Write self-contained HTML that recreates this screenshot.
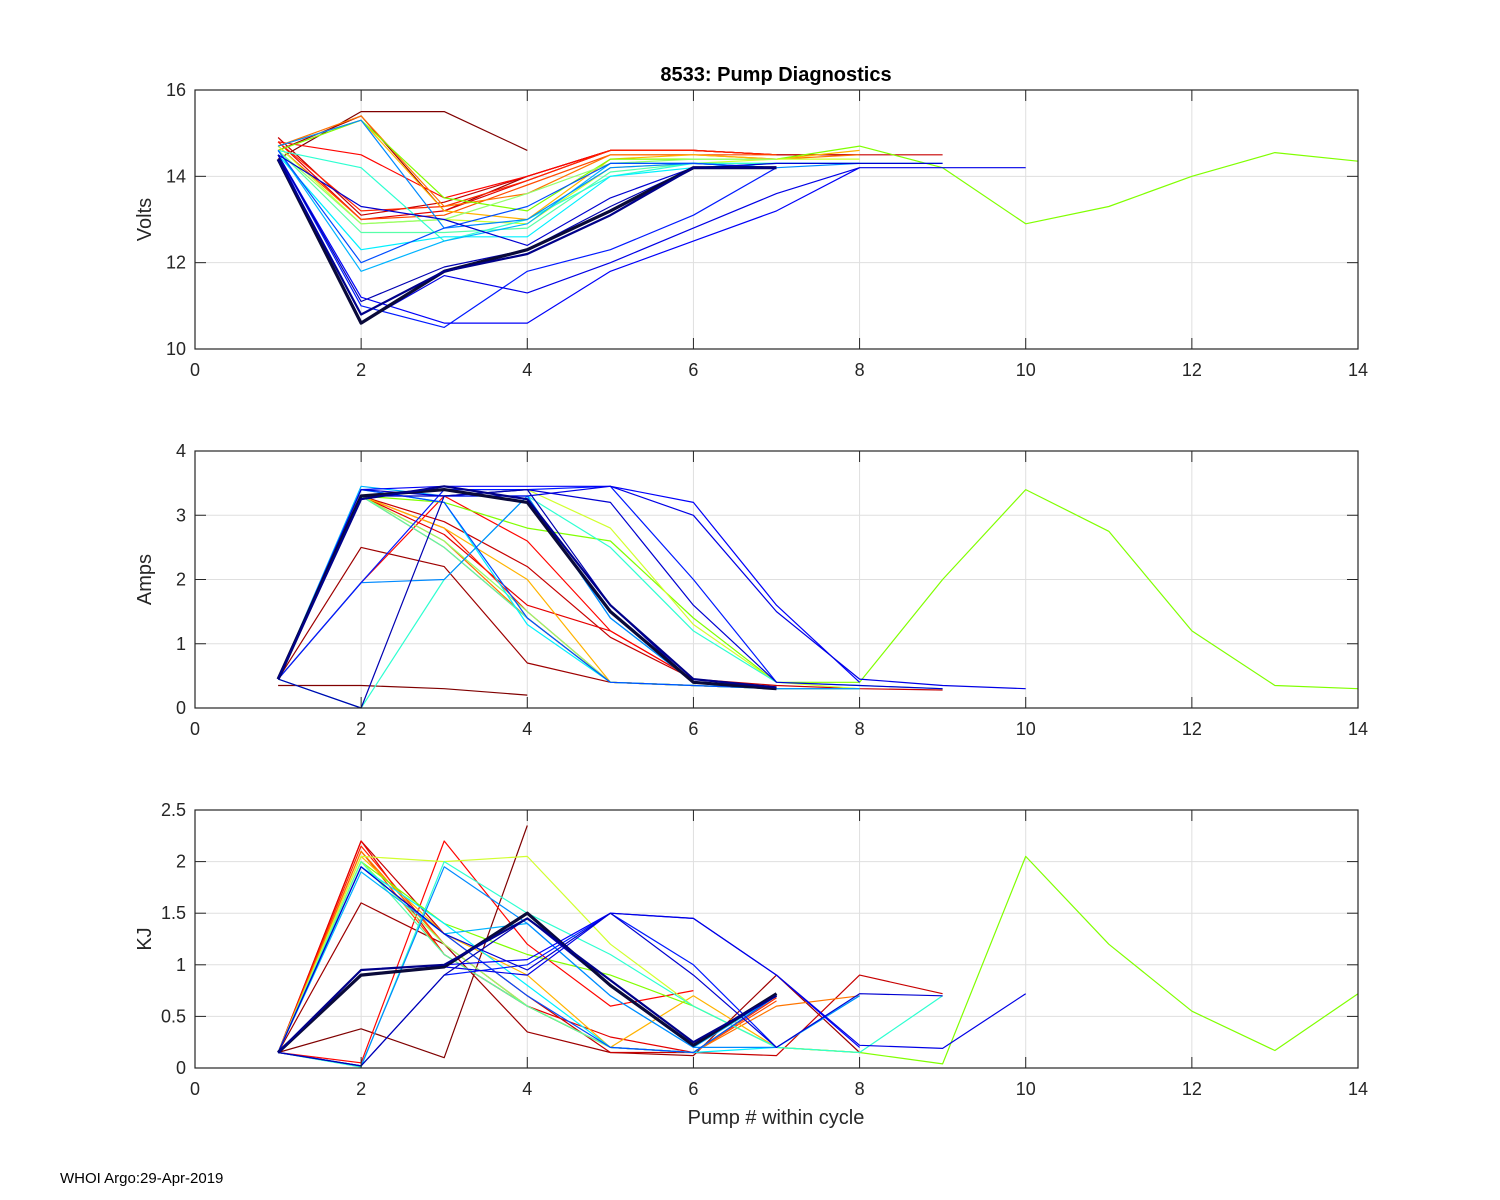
<!DOCTYPE html>
<html><head><meta charset="utf-8"><style>
html,body{margin:0;padding:0;background:#fff;}
svg{display:block;font-family:"Liberation Sans",Arial,sans-serif;}
</style></head><body>
<svg id="chart" width="1500" height="1200" viewBox="0 0 1500 1200">
<rect width="1500" height="1200" fill="#fff"/>
<text x="776" y="81" text-anchor="middle" font-size="20" font-weight="bold" fill="#000">8533: Pump Diagnostics</text>
<text x="776" y="1124" text-anchor="middle" font-size="20" fill="#262626">Pump # within cycle</text>
<text x="60" y="1183" font-size="15" fill="#000">WHOI Argo:29-Apr-2019</text>
</svg>
<script>
// Series: t = colour position on jet scale (0 blue .. 1 dark red), 'k' = dark thick line, 'lg' = lime green
const seriesColor = [1.0, 0.97, 0.93, 0.9, 0.87, 0.84, 0.8, 0.76, 0.7, 'lg', 0.58, 0.52, 0.46, 0.42, 0.36, 0.3, 0.26, 0.2, 0.15, 0.12, 0.1, 0.08, 0.05, 'k', 'k2'];
const volts = [
 [14.4,15.5,15.5,14.6],
 [14.6,15.4,13.2,14.0,14.6,14.6,14.5,14.5],
 [14.9,13.1,13.4,14.0,14.6,14.6,14.5,14.5,14.5],
 [14.8,13.0,13.2,13.9,14.6,14.6,14.5],
 [14.8,14.5,13.5,14.0,14.6,14.6],
 [14.8,13.2,13.3,13.9,14.6,14.6,14.5],
 [14.7,13.0,13.1,13.8,14.5,14.5,14.5],
 [14.7,15.4,13.3,13.6,14.5,14.5,14.4,14.5],
 [14.7,15.3,13.2,13.0,14.4,14.5,14.4,14.6],
 [14.6,15.3,13.5,13.2,14.4,14.4,14.4,14.7,14.2,12.9,13.3,14.0,14.55,14.35],
 [14.7,12.9,13.0,12.9,14.2,14.3,14.4,14.4],
 [14.6,12.9,13.0,13.6,14.3,14.4,14.4],
 [14.6,12.7,12.7,12.8,14.1,14.3,14.3],
 [14.6,14.2,12.5,13.0,14.0,14.3,14.3,14.3,14.3],
 [14.5,12.3,12.6,12.6,14.0,14.2,14.3,14.3],
 [14.6,11.8,12.5,12.9,14.3,14.3,14.2],
 [14.7,15.3,12.8,13.0,14.2,14.3,14.2,14.3],
 [14.6,12.0,12.8,13.3,14.3,14.3,14.2],
 [14.5,11.0,10.5,11.8,12.3,13.1,14.2],
 [14.5,11.2,10.6,10.6,11.8,12.5,13.2,14.2],
 [14.5,10.6,11.7,11.3,12.0,12.8,13.6,14.2,14.2,14.2],
 [14.5,13.3,13.0,12.4,13.5,14.2,14.3,14.3,14.3],
 [14.5,11.1,11.9,12.3,13.3,14.2,14.2],
 [14.4,10.6,11.8,12.3,13.2,14.2,14.2],
 [14.4,10.8,11.8,12.2,13.1,14.2,14.2]
];
const amps = [
 [0.35,0.35,0.3,0.2],
 [0.45,2.5,2.2,0.7,0.4,0.35,0.3,0.3],
 [0.45,3.3,2.9,2.2,1.1,0.45,0.35,0.3,0.28],
 [0.45,3.3,2.7,1.6,1.2,0.45,0.3],
 [0.45,1.95,3.3,2.6,1.2,0.45],
 [0.45,3.3,2.8,1.5,0.4,0.35,0.3],
 [0.45,3.3,2.5,1.4,0.4,0.35,0.3],
 [0.45,3.3,2.6,1.4,0.4,0.35,0.3,0.3],
 [0.45,3.3,2.8,2.0,0.4,0.35,0.3,0.3],
 [0.45,3.3,3.2,2.8,2.6,1.4,0.4,0.4,2.0,3.4,2.75,1.2,0.35,0.3],
 [0.45,3.3,3.3,3.4,2.8,1.3,0.4,0.3],
 [0.45,3.3,2.6,1.5,0.4,0.35,0.3],
 [0.45,3.3,2.5,1.4,0.4,0.35,0.3],
 [0.45,0.0,2.0,3.3,2.5,1.2,0.4,0.35,0.3],
 [0.45,3.4,3.2,1.3,0.4,0.35,0.3,0.3],
 [0.45,3.45,3.3,3.3,1.4,0.4,0.3],
 [0.45,1.95,2.0,3.3,1.4,0.4,0.3,0.3],
 [0.45,3.4,3.2,1.4,0.4,0.35,0.3],
 [0.45,1.95,3.4,3.4,3.45,2.0,0.4],
 [0.45,3.4,3.45,3.45,3.45,3.2,1.6,0.4],
 [0.45,3.3,3.3,3.3,3.45,3.0,1.5,0.45,0.35,0.3],
 [0.45,3.4,3.3,3.4,3.2,1.6,0.4,0.35,0.3],
 [0.45,0.0,3.3,3.4,1.6,0.4,0.3],
 [0.45,3.3,3.4,3.2,1.5,0.4,0.3],
 [0.45,3.25,3.45,3.25,1.6,0.45,0.32]
];
const kj = [
 [0.15,0.38,0.1,2.35],
 [0.15,1.6,1.2,0.35,0.15,0.12,0.9,0.15],
 [0.15,2.2,1.3,0.7,0.15,0.15,0.12,0.9,0.72],
 [0.15,2.2,1.1,0.6,0.3,0.15,0.7],
 [0.15,0.05,2.2,1.2,0.6,0.75],
 [0.15,2.15,1.2,0.6,0.2,0.15,0.68],
 [0.15,2.1,1.1,0.6,0.2,0.15,0.65],
 [0.15,2.1,1.2,0.6,0.2,0.15,0.6,0.7],
 [0.15,2.05,1.3,0.9,0.2,0.7,0.2,0.15],
 [0.15,2.0,1.4,1.1,0.9,0.6,0.2,0.15,0.04,2.05,1.2,0.55,0.17,0.72],
 [0.15,2.05,2.0,2.05,1.2,0.6,0.2,0.15],
 [0.15,2.0,1.2,0.6,0.2,0.15,0.7],
 [0.15,2.0,1.1,0.6,0.2,0.15,0.7],
 [0.15,0.01,2.0,1.5,1.1,0.6,0.2,0.15,0.7],
 [0.15,1.95,1.4,0.8,0.2,0.15,0.2,0.7],
 [0.15,1.9,1.3,1.4,0.7,0.2,0.7],
 [0.15,0.02,1.95,1.4,0.7,0.2,0.2,0.7],
 [0.15,1.95,1.3,0.7,0.2,0.15,0.7],
 [0.15,0.02,0.9,1.0,1.5,1.0,0.2],
 [0.15,0.95,1.0,1.05,1.5,1.45,0.9,0.2],
 [0.15,0.9,0.98,0.9,1.5,1.45,0.9,0.22,0.19,0.72],
 [0.15,1.95,1.3,0.95,1.5,0.9,0.2,0.72,0.7],
 [0.15,0.02,0.9,1.45,0.8,0.22,0.72],
 [0.15,0.9,0.98,1.5,0.8,0.22,0.72],
 [0.15,0.95,1.0,1.45,0.85,0.25,0.7]
];
const xTicks = [0,2,4,6,8,10,12,14];
const voltTicks = [10,12,14,16];
const ampTicks = [0,1,2,3,4];
const kjTicks = [0,0.5,1,1.5,2,2.5];

const NS = 'http://www.w3.org/2000/svg';
const svg = document.getElementById('chart');
const X0 = 195, X1 = 1358, XMAX = 14;
function sx(v){ return X0 + (X1 - X0) * v / XMAX; }
function jet(t){
  function c(x){ return Math.max(0, Math.min(1, x)); }
  const r = c(1.5 - Math.abs(4*t - 3)), g = c(1.5 - Math.abs(4*t - 2)), b = c(1.5 - Math.abs(4*t - 1));
  return 'rgb(' + Math.round(r*255) + ',' + Math.round(g*255) + ',' + Math.round(b*255) + ')';
}
function mk(tag, attrs, parent){
  const e = document.createElementNS(NS, tag);
  for (const k in attrs) e.setAttribute(k, attrs[k]);
  (parent || svg).appendChild(e);
  return e;
}
function panel(name, yTop, yBot, ymin, ymax, ticks, label, data){
  const sy = v => yBot - (yBot - yTop) * (v - ymin) / (ymax - ymin);
  const g = mk('g', {});
  
  
  mk('rect', {x:X0, y:yTop, width:X1-X0, height:yBot-yTop, fill:'#fff'}, g);
  xTicks.forEach(v => {
    if (v > 0 && v < XMAX) mk('line', {x1:sx(v), x2:sx(v), y1:yTop, y2:yBot, stroke:'#dfdfdf', 'stroke-width':1}, g);
  });
  ticks.forEach(v => {
    if (v > ymin && v < ymax) mk('line', {x1:X0, x2:X1, y1:sy(v), y2:sy(v), stroke:'#dfdfdf', 'stroke-width':1}, g);
  });
  const lines = mk('g', {}, g);
  
  
  data.forEach((arr, i) => {
    const c = seriesColor[i];
    let col, w;
    if (c === 'k') { col = '#0a0a3a'; w = 3.2; }
    else if (c === 'k2') { col = '#00008a'; w = 2.2; }
    else if (c === 'lg') { col = '#80ff00'; w = 1.2; }
    else { col = jet(c); w = 1.2; }
    const pts = arr.map((v, j) => sx(j + 1).toFixed(1) + ',' + sy(v).toFixed(1)).join(' ');
    const p = mk('polyline', {points:pts, fill:'none', stroke:col, 'stroke-width':w, 'stroke-linejoin':'round'}, lines);
    
    
  });
  mk('rect', {x:X0, y:yTop, width:X1-X0, height:yBot-yTop, fill:'none', stroke:'#262626', 'stroke-width':1.2}, g);
  xTicks.forEach(v => {
    mk('line', {x1:sx(v), x2:sx(v), y1:yBot, y2:yBot-11, stroke:'#262626'}, g);
    mk('line', {x1:sx(v), x2:sx(v), y1:yTop, y2:yTop+11, stroke:'#262626'}, g);
    const t = mk('text', {x:sx(v), y:yBot+27, 'text-anchor':'middle', 'font-size':18, fill:'#262626'}, g);
    t.textContent = v;
    
    
  });
  ticks.forEach(v => {
    mk('line', {x1:X0, x2:X0+11, y1:sy(v), y2:sy(v), stroke:'#262626'}, g);
    mk('line', {x1:X1, x2:X1-11, y1:sy(v), y2:sy(v), stroke:'#262626'}, g);
    const t = mk('text', {x:X0-9, y:sy(v)+6, 'text-anchor':'end', 'font-size':18, fill:'#262626'}, g);
    t.textContent = v;
    
    
  });
  const ym = (yTop + yBot) / 2;
  const lt = mk('text', {x:151, y:ym, 'text-anchor':'middle', 'font-size':20, fill:'#262626', transform:'rotate(-90 151 ' + ym + ')'}, g);
  lt.textContent = label;
  
  
}
panel('volts', 90, 349, 10, 16, voltTicks, 'Volts', volts);
panel('amps', 451, 708, 0, 4, ampTicks, 'Amps', amps);
panel('kj', 810, 1068, 0, 2.5, kjTicks, 'KJ', kj);
</script>
</body></html>
